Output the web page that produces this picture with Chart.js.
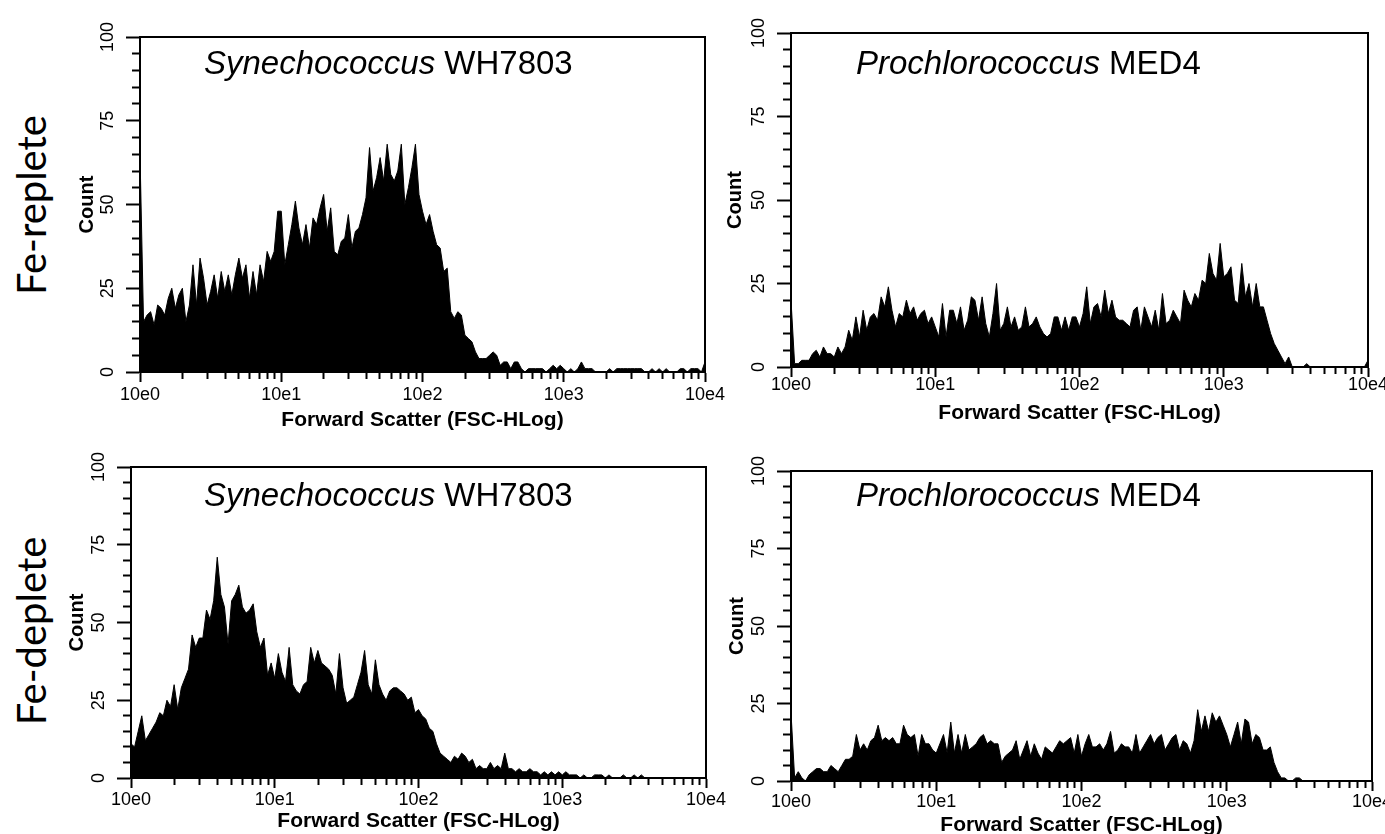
<!DOCTYPE html>
<html>
<head>
<meta charset="utf-8">
<script src="https://cdn.jsdelivr.net/npm/chart.js@4.4.1/dist/chart.umd.min.js"></script>
<style>
  html, body { margin: 0; padding: 0; background: #fff; }
  body { width: 1385px; height: 834px; overflow: hidden; position: relative; font-family: "Liberation Sans", Arial, sans-serif; }
  canvas { position: absolute; }
  .row { position: absolute; font-family: Lato, "Liberation Sans", sans-serif; font-size: 40px; line-height: 1; white-space: nowrap; color: #000;
         transform: translate(-50%, -50%) rotate(-90deg); }
  .title { position: absolute; font-size: 33px; line-height: 1; white-space: nowrap; color: #000; }
</style>
</head>
<body>
<div class="row" style="left:31px;top:205px">Fe-replete</div>
<div class="row" style="left:31px;top:631px">Fe-deplete</div>
<canvas id="c0"></canvas>
<canvas id="c1"></canvas>
<canvas id="c2"></canvas>
<canvas id="c3"></canvas>
<div class="title" style="left:204px;top:46px"><i>Synechococcus</i> WH7803</div>
<div class="title" style="left:856px;top:46px"><i>Prochlorococcus</i> MED4</div>
<div class="title" style="left:204px;top:478px"><i>Synechococcus</i> WH7803</div>
<div class="title" style="left:856px;top:478px"><i>Prochlorococcus</i> MED4</div>
<script>
// histogram channels: 40 per decade, 10e0 .. 10e4
const channelsPerDecade = 40;
const decades = [1, 10, 100, 1000, 10000];
const decadeLabels = ['10e0', '10e1', '10e2', '10e3', '10e4'];
const countTicks = [0, 25, 50, 75, 100];
const xTitle = 'Forward Scatter (FSC-HLog)';
const yTitle = 'Count';

const synRepleteCounts = [
  65, 15, 17, 18, 14, 20, 19, 17, 22, 25,
  19, 23, 25, 15, 20, 32, 20, 34, 28, 20,
  24, 29, 22, 30, 24, 29, 23, 29, 34, 28,
  32, 22, 30, 23, 32, 27, 36, 33, 36, 48,
  48, 32, 38, 44, 51, 43, 38, 44, 37, 46,
  44, 49, 53, 42, 49, 36, 35, 39, 40, 47,
  37, 42, 43, 47, 52, 67, 54, 58, 64, 57,
  68, 59, 57, 60, 68, 50, 55, 61, 68, 53,
  48, 44, 47, 42, 38, 37, 30, 31, 18, 16,
  18, 17, 11, 10, 9, 6, 4, 4, 4, 5,
  6, 5, 2, 3, 3, 1, 3, 3, 1, 0,
  1, 1, 1, 1, 1, 0, 1, 2, 1, 2,
  1, 0, 1, 0, 1, 3, 1, 1, 1, 0,
  0, 0, 0, 1, 0, 1, 1, 1, 1, 1,
  1, 1, 1, 0, 0, 1, 0, 1, 0, 1,
  0, 0, 0, 1, 1, 0, 1, 1, 1, 0,
  3
];

const proRepleteCounts = [
  20, 1, 1, 2, 2, 2, 4, 5, 3, 6,
  4, 4, 3, 6, 4, 6, 11, 8, 15, 9,
  17, 11, 15, 16, 14, 21, 18, 24, 17, 12,
  16, 15, 20, 16, 18, 14, 16, 17, 13, 15,
  12, 9, 19, 9, 17, 17, 13, 18, 11, 14,
  21, 20, 14, 21, 13, 9, 16, 25, 11, 13,
  18, 12, 15, 11, 12, 18, 12, 13, 15, 12,
  10, 9, 10, 15, 15, 11, 15, 11, 15, 15,
  12, 16, 24, 13, 18, 19, 15, 23, 16, 20,
  15, 14, 14, 13, 12, 17, 18, 11, 18, 15,
  12, 17, 11, 22, 13, 14, 17, 15, 13, 23,
  20, 18, 22, 20, 26, 25, 34, 28, 26, 37,
  27, 28, 30, 20, 19, 31, 21, 25, 18, 25,
  18, 18, 14, 10, 7, 5, 3, 1, 3, 0,
  0, 0, 0, 1, 0, 0, 0, 0, 0, 0,
  0, 0, 0, 0, 0, 0, 0, 0, 0, 0,
  2
];

const synDepleteCounts = [
  11, 10, 15, 20, 12, 14, 16, 18, 21, 20,
  25, 23, 30, 22, 29, 32, 35, 46, 42, 45,
  45, 54, 51, 57, 71, 59, 55, 43, 57, 59,
  62, 55, 53, 54, 56, 47, 42, 45, 33, 37,
  32, 40, 34, 31, 42, 30, 28, 27, 30, 31,
  42, 37, 41, 37, 36, 35, 33, 27, 40, 29,
  24, 25, 26, 30, 34, 41, 30, 27, 38, 30,
  27, 25, 28, 29, 29, 28, 27, 25, 26, 21,
  22, 20, 19, 16, 15, 11, 8, 7, 6, 5,
  7, 6, 8, 7, 5, 6, 3, 4, 3, 3,
  5, 3, 4, 3, 8, 3, 3, 2, 3, 2,
  2, 3, 2, 2, 1, 2, 1, 2, 1, 2,
  1, 2, 1, 1, 1, 0, 1, 0, 0, 1,
  1, 1, 0, 1, 0, 0, 0, 1, 0, 0,
  1, 0, 1, 0, 0, 0, 0, 0, 0, 0,
  0, 0, 0, 0, 0, 0, 0, 0, 0, 0,
  0
];

const proDepleteCounts = [
  22, 1, 3, 1, 0, 2, 3, 4, 4, 3,
  3, 5, 4, 3, 5, 7, 7, 8, 15, 10,
  12, 10, 13, 14, 18, 13, 14, 13, 14, 12,
  12, 18, 15, 14, 15, 8, 15, 12, 12, 10,
  9, 12, 15, 9, 19, 9, 15, 9, 15, 10,
  11, 12, 14, 15, 12, 13, 12, 12, 6, 8,
  9, 10, 13, 7, 10, 13, 8, 12, 9, 7,
  11, 10, 9, 11, 13, 12, 13, 14, 9, 15,
  8, 12, 15, 11, 11, 12, 10, 12, 16, 9,
  10, 12, 11, 11, 9, 15, 9, 11, 13, 15,
  12, 14, 15, 10, 12, 14, 15, 10, 13, 12,
  9, 13, 23, 16, 21, 16, 22, 19, 21, 18,
  15, 11, 15, 19, 12, 20, 19, 12, 15, 14,
  10, 10, 11, 6, 3, 1, 1, 0, 0, 1,
  1, 0, 0, 0, 0, 0, 0, 0, 0, 0,
  0, 0, 0, 0, 0, 0, 0, 0, 0, 0,
  0
];

// decade ticks plus the 2..9 minor ticks inside each decade
const xTickValues = [];
decades.forEach((d, k) => {
  if (k === decades.length - 1) { xTickValues.push(d); return; }
  for (let m = 1; m <= 9; m++) xTickValues.push(m * d);
});

const family = '"Liberation Sans", Arial, sans-serif';
Chart.defaults.font.family = family;
Chart.defaults.color = '#000';

// canvas: [left, top, width, height]; area: plot box [left, top, right, bottom] in page px
const panels = [
  { id: 'c0', counts: synRepleteCounts, canvas: [0, 0, 745, 440], area: [140, 37, 705, 372], countX: 87, xh: 61, labelPad: 2 },
  { id: 'c1', counts: proRepleteCounts, canvas: [720, 0, 665, 440], area: [791, 33, 1368, 367], countX: 735, xh: 59, labelPad: -3 },
  { id: 'c2', counts: synDepleteCounts, canvas: [0, 420, 745, 430], area: [131, 467, 706, 778], countX: 77, xh: 56, labelPad: 1 },
  { id: 'c3', counts: proDepleteCounts, canvas: [720, 420, 665, 430], area: [791, 471, 1372, 781], countX: 737, xh: 57, labelPad: 0 }
];

const axisLine = { display: true, color: '#000', width: 2 };

panels.forEach(p => {
  const [cx, cy, cw, ch] = p.canvas;
  const [al, at, ar, ab] = p.area;
  const el = document.getElementById(p.id);
  el.width = cw; el.height = ch;
  el.style.left = cx + 'px'; el.style.top = cy + 'px';

  const yTitleLeft = p.countX - 12;
  const yw = al - yTitleLeft;

  new Chart(el, {
    type: 'line',
    data: {
      datasets: [{
        data: p.counts.map((c, i) => ({ x: Math.pow(10, i / channelsPerDecade), y: c })),
        xAxisID: 'x',
        yAxisID: 'y',
        borderColor: '#000',
        backgroundColor: '#000',
        borderWidth: 1,
        fill: 'origin',
        pointRadius: 0,
        tension: 0
      }]
    },
    options: {
      responsive: false,
      animation: false,
      events: [],
      devicePixelRatio: 1,
      layout: {
        padding: { left: yTitleLeft - cx, top: at - cy, right: cx + cw - ar, bottom: cy + ch - ab - p.xh }
      },
      plugins: { legend: { display: false }, tooltip: { enabled: false } },
      scales: {
        x: {
          type: 'logarithmic',
          position: 'bottom',
          min: 1,
          max: 10000,
          afterBuildTicks: s => { s.ticks = xTickValues.map(v => ({ value: v })); },
          afterFit: s => { s.height = p.xh; s.paddingLeft = 0; s.paddingRight = 0; },
          border: axisLine,
          grid: {
            drawOnChartArea: false,
            tickLength: 10,
            tickWidth: 2,
            tickColor: '#000',
            tickBorderDash: c => (c.tick && !decades.includes(c.tick.value)) ? [6, 10] : []
          },
          ticks: {
            autoSkip: false,
            maxRotation: 0,
            minRotation: 0,
            padding: p.labelPad,
            font: { size: 18 },
            callback: v => {
              const k = decades.indexOf(v);
              return k >= 0 ? decadeLabels[k] : '';
            }
          },
          title: { display: true, text: xTitle, padding: 0, font: { size: 21, weight: 'bold' } }
        },
        y: {
          type: 'linear',
          position: 'left',
          min: 0,
          max: 100,
          afterFit: s => { s.width = yw; s.paddingTop = 0; s.paddingBottom = 0; },
          border: axisLine,
          grid: {
            drawOnChartArea: false,
            tickLength: 14,
            tickWidth: 2,
            tickColor: '#000',
            tickBorderDash: c => (c.tick && c.tick.value % 25) ? [8, 6] : [],
            tickBorderDashOffset: c => (c.tick && c.tick.value % 25) ? 8 : 0
          },
          ticks: {
            stepSize: 5,
            autoSkip: false,
            minRotation: 90,
            maxRotation: 90,
            crossAlign: 'center',
            padding: 3,
            font: { size: 18 },
            callback: v => countTicks.includes(v) ? String(v) : ''
          },
          title: { display: true, text: yTitle, padding: 0, font: { size: 20, weight: 'bold' } }
        },
        xTop: {
          type: 'linear',
          position: 'top',
          min: 0,
          max: 1,
          afterFit: s => { s.height = 0; },
          border: axisLine,
          grid: { display: false },
          ticks: { display: false }
        },
        yRight: {
          type: 'linear',
          position: 'right',
          min: 0,
          max: 1,
          afterFit: s => { s.width = 0; },
          border: axisLine,
          grid: { display: false },
          ticks: { display: false }
        }
      }
    }
  });
});
</script>
</body>
</html>
